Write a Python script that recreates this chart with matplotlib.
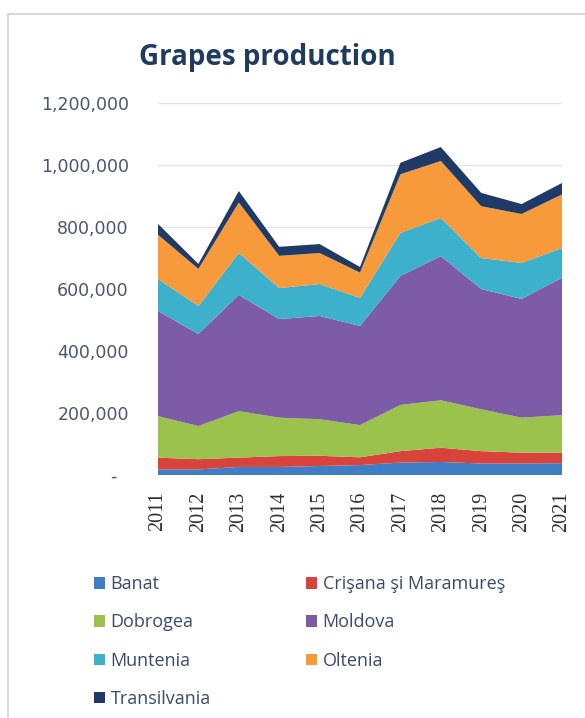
import matplotlib
matplotlib.use("Agg")
import matplotlib.pyplot as plt
from matplotlib.patches import Patch
from matplotlib.ticker import FuncFormatter
from matplotlib.lines import Line2D

years = [2011, 2012, 2013, 2014, 2015, 2016, 2017, 2018, 2019, 2020, 2021]
regions = ["Banat", "Crişana şi Maramureş", "Dobrogea", "Moldova",
           "Muntenia", "Oltenia", "Transilvania"]
banat = [18000, 18000, 26000, 26000, 29000, 32000, 40000, 42000, 37000, 37000, 38000]
crisana = [38000, 33000, 30000, 35000, 33000, 25000, 37000, 46000, 40000, 35000, 34000]
dobrogea = [134000, 107000, 150000, 124000, 118000, 104000, 149000, 153000, 135000, 113000, 121000]
moldova = [339000, 297000, 375000, 318000, 333000, 320000, 416000, 465000, 388000, 383000, 443000]
muntenia = [103000, 90000, 135000, 100000, 103000, 90000, 139000, 123000, 100000, 116000, 96000]
oltenia = [143000, 120000, 163000, 104000, 100000, 82000, 189000, 184000, 167000, 158000, 173000]
transilvania = [35000, 16000, 37000, 29000, 29000, 18000, 37000, 45000, 43000, 32000, 37000]
y_ticks = [0, 200000, 400000, 600000, 800000, 1000000, 1200000]

colors = ["#3F7DC4", "#D8443C", "#9CC24E", "#7E5BA6", "#3DB1CC", "#F79A3C", "#1F3A66"]
series = [banat, crisana, dobrogea, moldova, muntenia, oltenia, transilvania]

W, H = 585, 718
fig = plt.figure(figsize=(W / 100, H / 100), dpi=100)
fig.patch.set_facecolor("white")

# frame lines (slide border)
fig.add_artist(Line2D([8 / W, 1.0], [1 - 14 / H, 1 - 14 / H], color="#D6D9DE", lw=1.5))
fig.add_artist(Line2D([8 / W, 8 / W], [0, 1 - 14 / H], color="#D6D9DE", lw=1.5))

left, right, top, bottom = 158, 562, 103, 475
ax = fig.add_axes([left / W, 1 - bottom / H, (right - left) / W, (bottom - top) / H])
ax.stackplot(years, *series, colors=colors, labels=regions, lw=0)
ax.set_xlim(years[0], years[-1])
ax.set_ylim(0, 1200000)
ax.set_yticks(y_ticks)
ax.set_xticks(years)
ax.yaxis.set_major_formatter(FuncFormatter(lambda v, p: "-  " if v == 0 else f"{int(v):,}"))
ax.set_xticklabels([str(y) for y in years], rotation=90, family="Liberation Serif",
                   fontsize=14.5, color="#303030")
for lab in ax.get_yticklabels():
    lab.set_family("DejaVu Sans")
    lab.set_fontsize(12.5)
    lab.set_color("#4A5570")
ax.tick_params(axis="both", length=0)
ax.tick_params(axis="y", pad=21)
ax.tick_params(axis="x", pad=12)
for s in ax.spines.values():
    s.set_visible(False)
ax.set_axisbelow(True)
ax.grid(axis="y", color="#E4E4E4", lw=1)

fig.text(267 / W, 1 - 58 / H, "Grapes production", ha="center", va="center",
         fontsize=20, fontweight="bold", color="#1F3B5E", family="Open Sans")

handles = [Patch(facecolor=c, edgecolor="none") for c in colors]
order = [0, 2, 4, 6, 1, 3, 5]
leg = fig.legend([handles[i] for i in order], [regions[i] for i in order],
                 ncol=2, loc="upper left", bbox_to_anchor=(78 / W, 1 - 559 / H),
                 frameon=False, handlelength=0.6, handleheight=0.6, handletextpad=0.3,
                 columnspacing=5.3, labelspacing=1.12,
                 prop={"family": "Open Sans", "size": 13})
for t in leg.get_texts():
    t.set_color("#3A4A6E")

fig.savefig("out.png", dpi=100)
